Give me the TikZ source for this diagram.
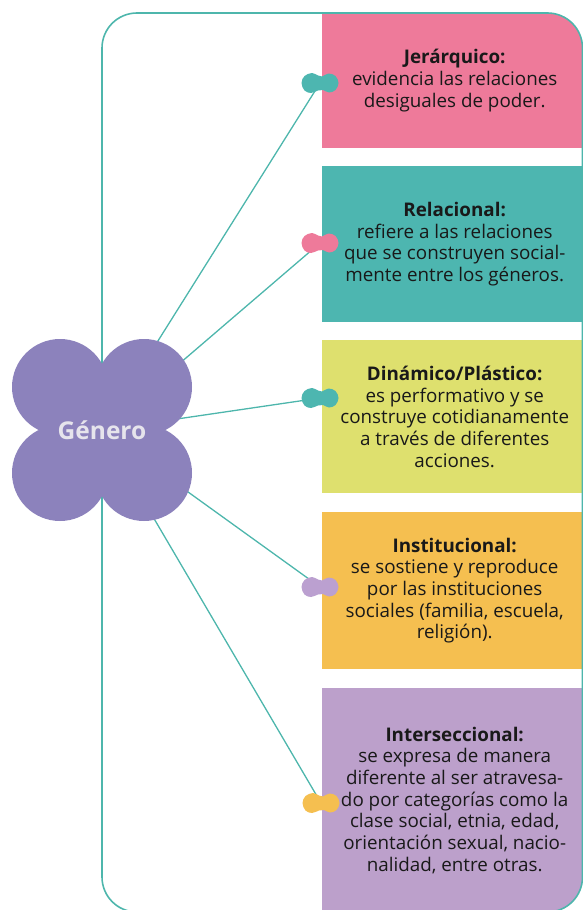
\documentclass[tikz,border=0pt]{standalone}
\usepackage{fontspec}
\setmainfont{Open Sans}
\usepackage{tikz}
\usepackage{tikz-network}

\definecolor{marco}{HTML}{4DB6AC}
\definecolor{rosa}{HTML}{EE7A9A}
\definecolor{verdeagua}{HTML}{4DB6B0}
\definecolor{amarillo}{HTML}{DEE06E}
\definecolor{naranja}{HTML}{F5BF50}
\definecolor{lila}{HTML}{BCA0CB}
\definecolor{lilablob}{HTML}{BBA0D0}
\definecolor{violeta}{HTML}{8C82BC}
\definecolor{grisclaro}{HTML}{E6E4EC}

\tikzset{
  caja/.style={rectangle, minimum width=265pt, minimum height=#1, inner sep=0pt,
    anchor=north west, align=center, text=black!90,
    font=\fontsize{18.8}{21.7}\selectfont},
  lobulo/.style={fill=violeta, draw=none},
}

\newcommand{\Mancha}[2]{%
  \fill[#2, shift={(#1)}] plot[smooth cycle, tension=0.6] coordinates {
    (-18.5,0) (-15.5,-7) (-8,-10) (-2,-7.5) (2,-6.5) (8.5,-9.5) (15.5,-7)
    (18.5,0) (15.5,7) (9,9.5) (3,7) (-2,7.5) (-9,10) (-15.5,7.5)};
}

\begin{document}
\begin{tikzpicture}[x=1pt,y=-1pt]
\useasboundingbox (0,0) rectangle (583,910);

\begin{scope}
\clip[rounded corners=35pt] (102,13) rectangle (582.5,912);
\node[caja=135pt, fill=rosa] (jer) at (322,13)
  {\textbf{Jerárquico:}\\evidencia las relaciones\\desiguales de poder.};
\node[caja=156pt, fill=verdeagua] (rel) at (322,166)
  {\textbf{Relacional:}\\refiere a las relaciones\\que se construyen social-\\mente entre los géneros.};
\node[caja=153pt, fill=amarillo] (din) at (322,340)
  {\textbf{Dinámico/Plástico:}\\es performativo y se\\construye cotidianamente\\a través de diferentes\\acciones.};
\node[caja=157pt, fill=naranja] (ins) at (322,512)
  {\textbf{Institucional:}\\se sostiene y reproduce\\por las instituciones\\sociales (familia, escuela,\\religión).};
\node[caja=224pt, fill=lila] (int) at (322,688)
  {\textbf{Interseccional:}\\se expresa de manera\\diferente al ser atravesa-\\do por categorías como la\\clase social, etnia, edad,\\orientación sexual, nacio-\\nalidad, entre otras.};
\end{scope}

\draw[marco, line width=1.6pt, rounded corners=35pt] (102,13) rectangle (582.5,912);

\coordinate (centro) at (102,430);
\coordinate (b1) at (320,83);
\coordinate (b2) at (320,243);
\coordinate (b3) at (320,398);
\coordinate (b4) at (320,587);
\coordinate (b5) at (321,803);

\Edge[lw=1.3pt,color=marco,opacity=1](centro)(b1)
\Edge[lw=1.3pt,color=marco,opacity=1](centro)(b2)
\Edge[lw=1.3pt,color=marco,opacity=1](centro)(b3)
\Edge[lw=1.3pt,color=marco,opacity=1](centro)(b4)
\Edge[lw=1.3pt,color=marco,opacity=1](centro)(b5)

\fill[lobulo] (60,387) circle[radius=48pt];
\fill[lobulo] (144,387) circle[radius=48pt];
\fill[lobulo] (60,473) circle[radius=48pt];
\fill[lobulo] (144,473) circle[radius=48pt];
\fill[lobulo] (60,387) rectangle (144,473);
\node[text=grisclaro, font=\bfseries\fontsize{24.5}{28}\selectfont] (G) at (centro) {Género};

\Mancha{b1}{verdeagua}
\Mancha{b2}{rosa}
\Mancha{b3}{verdeagua}
\Mancha{b4}{lilablob}
\Mancha{b5}{naranja}

\end{tikzpicture}
\end{document}
